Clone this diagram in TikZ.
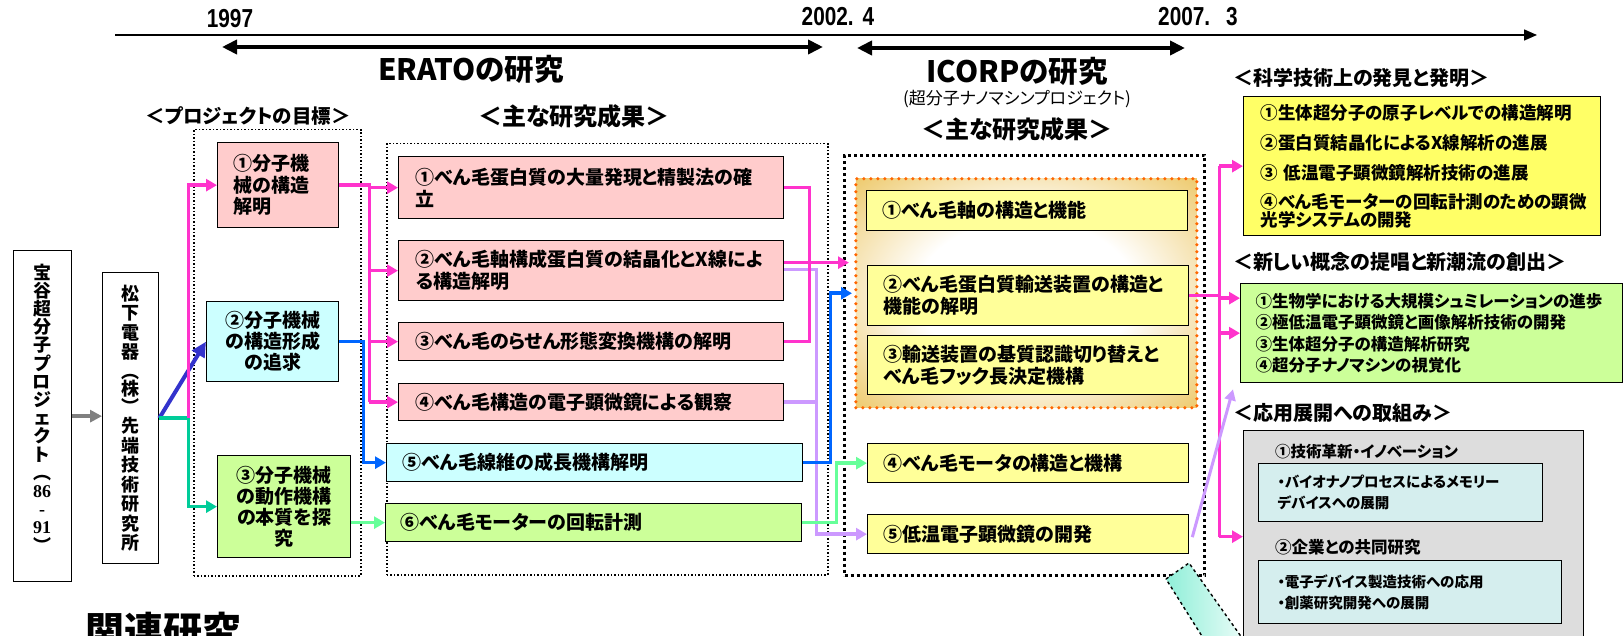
\documentclass[tikz,border=0pt]{standalone}
\usepackage{fontspec}
\setmainfont{Noto Sans CJK JP}[RawFeature=+palt]
\newfontfamily\narrowf{Liberation Sans}[FakeStretch=0.8]
\newfontfamily\serf{Liberation Serif}
\usetikzlibrary{arrows.meta,calc}
\newcommand\myfs[2]{\fontsize{#1}{#2}\selectfont}
\definecolor{pinkc}{HTML}{FFCCCC}
\definecolor{cyanc}{HTML}{CCFFFF}
\definecolor{greenc}{HTML}{CCFF99}
\definecolor{yelc}{HTML}{FFFF99}
\definecolor{yeltwo}{HTML}{FFFF66}
\definecolor{grayb}{HTML}{DDDDDD}
\definecolor{innerc}{HTML}{D5EEEE}
\definecolor{magc}{HTML}{FF33CC}
\definecolor{bluec}{HTML}{0066FF}
\definecolor{indigoc}{HTML}{3333CC}
\definecolor{tealc}{HTML}{00CC99}
\definecolor{mintc}{HTML}{66FF99}
\definecolor{lavc}{HTML}{CC99FF}
\definecolor{grayc}{HTML}{808080}
\definecolor{orangec}{HTML}{FF6600}
\definecolor{goldc}{HTML}{E6B32E}
\definecolor{tealL}{HTML}{8FEFD8}
\pgfdeclareradialshading{goldrad}{\pgfpoint{0bp}{0bp}}{color(0bp)=(white); color(16bp)=(white); color(44bp)=(goldc); color(50bp)=(goldc)}
\tikzset{
  box/.style={draw=black, line width=1.3, anchor=north west, inner sep=0pt, align=left, font=\bfseries\myfs{19}{22}},
  cbox/.style={box, align=center},
  cont/.style={draw=black, line width=1.5, dash pattern=on 1.5pt off 2pt, anchor=north west, inner sep=0pt},
  seg/.style={line width=3.5},
  conn/.style={line width=3.5, -{Triangle[length=11,width=12]}},
  head/.style={font=\bfseries\myfs{20}{22}, inner sep=0pt},
  vtext/.style={align=center, inner sep=0pt, execute at begin node={\lineskiplimit=-100pt\lineskip=0pt\relax}},
}
\begin{document}
\begin{tikzpicture}[x=1pt,y=-1pt]
\useasboundingbox (0,0) rectangle (1623,636);
\fill[white] (0,0) rectangle (1623,636);

% ---------- timeline ----------
\coordinate (tl0) at (115,35);
\coordinate (tl1) at (1537,35);
\draw[line width=1.5, -{Triangle[length=13,width=11]}] (tl0) -- (tl1);
\node[font=\narrowf\bfseries\myfs{26}{26}] (y1) at (230,19) {1997};
\node[font=\narrowf\bfseries\myfs{26}{26}] (y2) at (838,17) {2002.\hspace{9pt}4};
\node[font=\narrowf\bfseries\myfs{26}{26}] (y3) at (1198,17) {2007.\hspace{16pt}3};
\coordinate (ea0) at (222,47);
\coordinate (ea1) at (823,47);
\draw[line width=4, {Triangle[length=15,width=14]}-{Triangle[length=15,width=14]}] (ea0) -- (ea1);
\coordinate (ia0) at (857,48);
\coordinate (ia1) at (1185,48);
\draw[line width=4, {Triangle[length=15,width=14]}-{Triangle[length=15,width=14]}] (ia0) -- (ia1);
\node[font=\bfseries\myfs{29.5}{30}] (erato) at (471,69) {ERATOの研究};
\node[font=\bfseries\myfs{29.5}{30}] (icorp) at (1017,71) {ICORPの研究};
\node[font=\myfs{17}{18}] (icsub) at (1017,99) {(超分子ナノマシンプロジェクト)};
\node[font=\bfseries\myfs{24}{25}] (ich) at (1017,129) {＜主な研究成果＞};
\node[font=\bfseries\myfs{24}{25}] (erh) at (574,116) {＜主な研究成果＞};
\node[font=\bfseries\myfs{19.5}{20}] (goh) at (248,116) {＜プロジェクトの目標＞};

% ---------- left boxes ----------
\node[draw=black, line width=1.3, anchor=north west, minimum width=58, minimum height=331, inner sep=0pt] (hoy) at (13,250) {};
\node[vtext, font=\bfseries\myfs{18}{18.2}] (hoyt) at (42,408)
  {宝\\谷\\超\\分\\子\\プ\\ロ\\ジ\\ェ\\ク\\ト\\︵\\{\serf 86}\\{\serf -}\\{\serf 91}\\︶};
\node[draw=black, line width=1.3, anchor=north west, minimum width=56, minimum height=291, inner sep=0pt] (mat) at (102,272) {};
\node[vtext, font=\bfseries\myfs{18}{19.5}] (matt) at (130,418)
  {松\\下\\電\\器\\︵\\[-2pt]株\\[-2pt]︶\\先\\端\\技\\術\\研\\究\\所};

% ---------- goal container ----------
\node[cont, minimum width=167, minimum height=446] (gc) at (193,129) {};
\node[box, fill=pinkc, minimum width=121, minimum height=85, text width=89, font=\bfseries\myfs{19}{21.5}] (g1) at (217,142) {①分子機\\械の構造\\解明};
\node[cbox, fill=cyanc, minimum width=132, minimum height=80, text width=122, font=\bfseries\myfs{19}{21}] (g2) at (206,301) {②分子機械\\の構造形成\\の追求};
\node[cbox, fill=greenc, minimum width=133, minimum height=102, text width=123, font=\bfseries\myfs{19}{21}] (g3) at (217,455) {③分子機械\\の動作機構\\の本質を探\\究};

% ---------- ERATO ----------
\node[cont, minimum width=441, minimum height=431] (ec) at (386,143) {};
\node[box, fill=pinkc, minimum width=385, minimum height=62, text width=351] (e1) at (398,156) {①べん毛蛋白質の大量発現と精製法の確\\立};
\node[box, fill=pinkc, minimum width=385, minimum height=60, text width=351] (e2) at (398,240) {②べん毛軸構成蛋白質の結晶化とX線によ\\る構造解明};
\node[box, fill=pinkc, minimum width=385, minimum height=38, text width=351] (e3) at (398,322) {③べん毛のらせん形態変換機構の解明};
\node[box, fill=pinkc, minimum width=385, minimum height=37, text width=351] (e4) at (398,383) {④べん毛構造の電子顕微鏡による観察};
\node[box, fill=cyanc, minimum width=416, minimum height=38, text width=384] (e5) at (386,443) {⑤べん毛線維の成長機構解明};
\node[box, fill=greenc, minimum width=416, minimum height=38, text width=386] (e6) at (385,503) {⑥べん毛モーターの回転計測};

% ---------- ICORP ----------
\node[draw=black, line width=3, dash pattern=on 3pt off 3pt, anchor=north west, inner sep=0pt, minimum width=360, minimum height=420] (ic) at (843,154) {};
\node[draw=orangec, line width=3.5, dash pattern=on 0pt off 7pt, line cap=round, shade, shading=goldrad, anchor=north west, inner sep=0pt, minimum width=341, minimum height=229] (ob) at (854,177) {};
\node[box, fill=yelc, minimum width=321, minimum height=40, text width=289] (i1) at (866,190) {①べん毛軸の構造と機能};
\node[box, fill=yelc, minimum width=321, minimum height=60, text width=289] (i2) at (867,265) {②べん毛蛋白質輸送装置の構造と\\機能の解明};
\node[box, fill=yelc, minimum width=321, minimum height=59, text width=289] (i3) at (867,335) {③輸送装置の基質認識切り替えと\\べん毛フック長決定機構};
\node[box, fill=yelc, minimum width=321, minimum height=39, text width=289] (i4) at (867,443) {④べん毛モータの構造と機構};
\node[box, fill=yelc, minimum width=321, minimum height=39, text width=289] (i5) at (867,514) {⑤低温電子顕微鏡の開発};

% ---------- right side ----------
\node[head, anchor=west] (h1) at (1233,78) {＜科学技術上の発見と発明＞};
\node[box, fill=yeltwo, minimum width=357, minimum height=139, text width=323, font=\bfseries\myfs{17.5}{18}] (r1) at (1243,96)
  {①生体超分子の原子レベルでの構造解明\\[12pt]②蛋白質結晶化によるX線解析の進展\\[12pt]③ 低温電子顕微鏡解析技術の進展\\[11pt]④べん毛モーターの回転計測のための顕微\\光学システムの開発};
\node[head, anchor=west] (h2) at (1233,262) {＜新しい概念の提唱と新潮流の創出＞};
\node[box, fill=greenc, minimum width=382, minimum height=99, text width=352, font=\bfseries\myfs{16.5}{21.3}] (r2) at (1240,283)
  {①生物学における大規模シュミレーションの進歩\\②極低温電子顕微鏡と画像解析技術の開発\\③生体超分子の構造解析研究\\④超分子ナノマシンの視覚化};
\node[head, anchor=west] (h3) at (1233,413) {＜応用展開への取組み＞};
\node[draw=black, line width=1.3, fill=grayb, anchor=north west, inner sep=0pt, minimum width=340, minimum height=220] (r3) at (1243,430) {};
\node[anchor=west, inner sep=0pt, font=\bfseries\myfs{15.5}{18}] (t1) at (1275,452) {①技術革新・イノベーション};
\node[box, fill=innerc, minimum width=284, minimum height=58, text width=246, font=\bfseries\myfs{14.5}{21}] (b1) at (1258,463) {・バイオナノプロセスによるメモリー\\デバイスへの展開};
\node[anchor=west, inner sep=0pt, font=\bfseries\myfs{16.5}{18}] (t2) at (1275,547) {②企業との共同研究};
\node[box, fill=innerc, minimum width=303, minimum height=63, text width=265, font=\bfseries\myfs{14.5}{21}] (b2) at (1258,560) {・電子デバイス製造技術への応用\\・創薬研究開発への展開};

% ---------- bottom ----------
\node[anchor=north, inner sep=0pt, font=\bfseries\myfs{39}{40}] (kr) at (163,612) {関連研究};
\draw[dashed, line width=1.4, left color=tealL, right color=white!90!tealL] (1166,579) -- (1189,563) -- (1252,652) -- (1222,668) -- cycle;

% ---------- connectors: left ----------
\draw[seg, grayc, -{Triangle[length=12,width=12]}] (hoy.east) -- (hoy.east -| mat.west);
\coordinate (jn) at ($(mat.east)+(29,0)$);
\draw[line width=4, indigoc, -{Triangle[length=15,width=14]}] (mat.east) -- (g2.west);
\draw[conn, tealc] (mat.east) -- (jn) |- (g3.west);
\draw[conn, magc] (jn) |- (g1.west);

% goals -> ERATO
\coordinate (mv) at ($(g1.east)+(30,0)$);
\draw[seg, magc] (g1.east) -- (mv) -- (mv |- e4.west);
\foreach \n in {e1,e2,e3,e4} { \draw[conn, magc] (mv |- \n.west) -- (\n.west); }
\draw[conn, bluec] (g2.east) -- ++(24,0) |- (e5.west);
\draw[conn, mintc] (g3.east |- e6.west) -- (e6.west);

% ERATO -> ICORP
\draw[conn, lavc] ($(e2.east)+(0,-1)$) -- ++(32,0) |- (i5.west);
\draw[seg, lavc] (e4.east) -- ++(32,0);
\draw[seg, magc] (e1.east) -- ++(25,0) |- (e3.east);
\draw[conn, magc] ($(e2.east)+(0,-8)$) -- ($(e2.east -| ob.west)+(-5,-8)$);
\draw[conn, bluec] (e5.east) -- ++(27,0) |- ($(ob.west)+(-2,0)$);
\draw[conn, mintc] (e6.east) -- ++(34,0) |- (i4.west);

% ICORP -> right
\coordinate (mr) at ($(i2.east)+(30,0)$);
\draw[seg, magc] (i2.east) -- (mr);
\draw[seg, magc] (mr |- r1.west) -- ($(mr |- r3.west)+(0,-4)$);
\draw[conn, magc] (mr |- r1.west) -- (r1.west);
\draw[conn, magc] ($(mr |- r2.west)+(0,-35)$) -- ($(r2.west)+(0,-35)$);
\draw[conn, magc] (mr |- r2.west) -- (r2.west);
\draw[conn, magc] ($(mr |- r3.west)+(0,-4)$) -- ($(r3.west)+(0,-4)$);
\draw[line width=3, lavc, -{Triangle[length=11,width=11]}] ($(i5.east)+(3,3)$) -- ($(r2.south west)+(-7,6)$);
\end{tikzpicture}
\end{document}
